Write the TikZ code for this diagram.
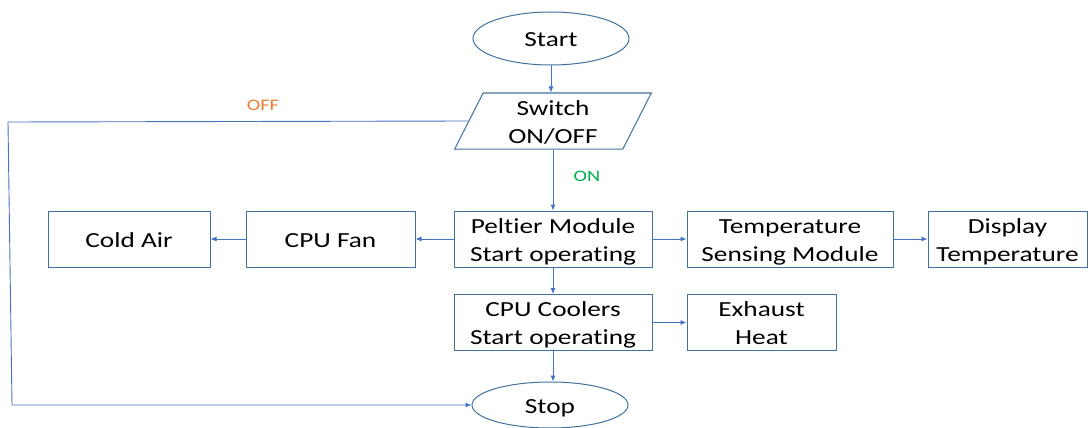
\documentclass[tikz,border=0pt]{standalone}
\usepackage{fontspec}
\setmainfont[Ligatures={NoCommon}]{Carlito}
\usepackage{graphicx}
\usetikzlibrary{shapes.geometric,arrows.meta}
\definecolor{boxc}{HTML}{41719C}
\definecolor{arrc}{HTML}{4472C4}
\definecolor{offc}{HTML}{ED7D31}
\definecolor{onc}{HTML}{00B050}
\newcommand{\tx}[1]{\raisebox{-2.5pt}[\height][\depth]{\scalebox{1.27}[1]{\fontsize{21.5}{28}\selectfont\begin{tabular}{@{}c@{}}#1\end{tabular}}}}
\newcommand{\lbl}[1]{\scalebox{1.27}[1]{\fontsize{16}{19}\selectfont #1}}
\begin{document}
\begin{tikzpicture}[x=1pt,y=-1pt,
  box/.style={draw=boxc,line width=1pt,rectangle,minimum height=56pt,inner sep=0pt},
  term/.style={draw=boxc,ellipse,line width=1pt,minimum width=156pt,minimum height=53pt,inner sep=0pt},
  para/.style={draw=boxc,line width=1pt,trapezium,trapezium left angle=72,trapezium right angle=108,trapezium stretches=true,minimum width=197pt,minimum height=54pt,inner sep=0pt},
  conn/.style={draw=arrc,line width=0.9pt,-{Latex[length=6pt,width=5pt]}},
  lab/.style={inner sep=0pt}]
\useasboundingbox (0,0) rectangle (1090,428);
\clip (0,0) rectangle (1090,428);
\node[term] (start) at (551,38.5) {\tx{Start}};
\node[para] (sw) at (553,121) {\tx{Switch\\ON/OFF}};
\node[box,minimum width=198pt] (pel) at (553,239) {\tx{Peltier Module\\Start operating}};
\node[box,minimum width=169pt] (fan) at (330.5,239) {\tx{CPU Fan}};
\node[box,minimum width=162pt] (cold) at (129,239) {\tx{Cold Air}};
\node[box,minimum width=206pt] (temp) at (790,239) {\tx{Temperature\\Sensing Module}};
\node[box,minimum width=159pt] (disp) at (1007.5,239) {\tx{Display\\Temperature}};
\node[box,minimum width=198pt,minimum height=55pt] (cool) at (553,322.5) {\tx{CPU Coolers\\Start operating}};
\node[box,minimum width=149pt,minimum height=55pt] (exh) at (761.5,322.5) {\tx{Exhaust\\Heat}};
\node[term,minimum height=46pt] (stop) at (550,405) {\tx{Stop}};
\node[lab,text=offc] (off) at (263,105) {\lbl{OFF}};
\node[lab,text=onc] (on) at (587,176) {\lbl{ON}};
\coordinate (c1) at (8,122);
\coordinate (c2) at (12,405);
\draw[conn] (start.south) -- (start.south |- sw.north);
\draw[conn] (sw.center |- sw.south) -- (pel.north);
\draw[conn] (sw.west) -- (c1) -- (c2) -- (stop.west);
\draw[conn] (pel) -- (fan);
\draw[conn] (fan) -- (cold);
\draw[conn] (pel) -- (temp);
\draw[conn] (temp) -- (disp);
\draw[conn] (pel) -- (cool);
\draw[conn] (cool) -- (exh);
\draw[conn] (cool.south) -- (cool.south |- stop.north);
\end{tikzpicture}
\end{document}
